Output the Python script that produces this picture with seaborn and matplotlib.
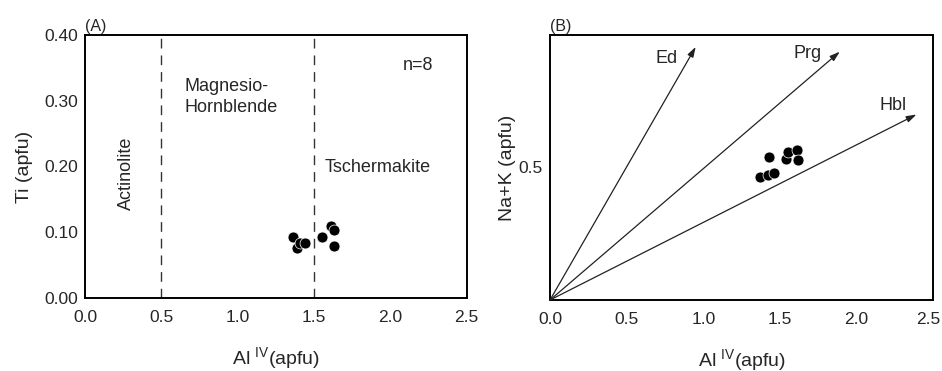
import matplotlib
matplotlib.use("Agg")
import matplotlib.pyplot as plt
import matplotlib.transforms as mtransforms
import seaborn as sns
import pandas as pd
from matplotlib import font_manager

sns.set_theme(style="white")
fams = [f.name for f in font_manager.fontManager.ttflist]
main_font = "Liberation Sans Narrow" if "Liberation Sans Narrow" in fams else "Liberation Sans"
plt.rcParams["font.family"] = [main_font, "DejaVu Sans"]
plt.rcParams["mathtext.fontset"] = "custom"
plt.rcParams["mathtext.rm"] = main_font
plt.rcParams["mathtext.it"] = main_font

# ---- data ----
al_a = [1.36, 1.39, 1.41, 1.44, 1.55, 1.61, 1.63, 1.63]
ti_a = [0.093, 0.076, 0.083, 0.083, 0.093, 0.110, 0.103, 0.079]

al_b = [1.37, 1.42, 1.46, 1.43, 1.54, 1.55, 1.61, 1.62]
nak_b = [0.465, 0.472, 0.478, 0.538, 0.531, 0.560, 0.566, 0.528]

boundaries = [0.5, 1.5]
field_names = ["Actinolite", "Magnesio-\nHornblende", "Tschermakite"]
arrow_names = ["Ed", "Prg", "Hbl"]
arrow_tips_x = [0.95, 1.89, 2.39]
arrow_tips_y = [0.955, 0.937, 0.70]
arrow_lab_x = [0.76, 1.68, 2.24]
arrow_lab_y = [0.912, 0.932, 0.735]

xticks = [0.0, 0.5, 1.0, 1.5, 2.0, 2.5]
ya_ticks = [0.0, 0.1, 0.2, 0.3, 0.4]
yb_ticks = [0.25, 0.5, 0.75]

df_a = pd.DataFrame({"al": al_a, "ti": ti_a})
df_b = pd.DataFrame({"al": al_b, "nak": nak_b})

fig = plt.figure(figsize=(9.42, 3.71), dpi=100)
axA = fig.add_axes([0.0902, 0.1968, 0.4052, 0.709])
axB = fig.add_axes([0.5839, 0.1914, 0.4069, 0.7143])

FS_TICK = 12.5
FS_LAB = 14
FS_TXT = 13

for ax in (axA, axB):
    for s in ax.spines.values():
        s.set_linewidth(1.4)
        s.set_color("black")
    ax.set_xlim(0, 2.5)
    ax.set_xticks(xticks)
    ax.set_xticklabels([f"{v:.1f}" for v in xticks], fontsize=FS_TICK)
    ax.tick_params(axis="both", direction="in", color="black", width=1.2)
    ax.grid(False)

# ---- panel A ----
sns.scatterplot(data=df_a, x="al", y="ti", ax=axA, color="black", s=62,
                edgecolor="white", linewidth=0.5, zorder=3, legend=False)
axA.set_ylim(0, 0.4)
axA.set_yticks(ya_ticks)
axA.set_yticklabels([f"{v:.2f}" for v in ya_ticks], fontsize=FS_TICK)
axA.tick_params(axis="y", length=11, pad=5)
axA.tick_params(axis="x", length=6, pad=9)
for b in boundaries:
    axA.axvline(b, color="#333333", lw=1.0, ls=(0, (7, 5)), zorder=1)
axA.text(0.27, 0.19, field_names[0], rotation=90, ha="center", va="center", fontsize=FS_TXT)
axA.text(0.65, 0.305, field_names[1], ha="left", va="center", fontsize=FS_TXT, linespacing=1.3)
axA.text(1.57, 0.198, field_names[2], ha="left", va="center", fontsize=FS_TXT)
axA.text(2.18, 0.354, "n=8", ha="center", va="center", fontsize=FS_TXT)
axA.set_xlabel(r"Al $^{\mathrm{IV}}$(apfu)", fontsize=FS_LAB, labelpad=14)
axA.set_ylabel("Ti (apfu)", fontsize=FS_LAB, labelpad=8)
axA.text(0.0, 1.005, "(A)", transform=axA.transAxes, ha="left", va="bottom", fontsize=11.5)

# ---- panel B ----
sns.scatterplot(data=df_b, x="al", y="nak", ax=axB, color="black", s=62,
                edgecolor="white", linewidth=0.5, zorder=3, legend=False)
axB.set_ylim(0, 1.0)
axB.set_yticks(yb_ticks)
axB.set_yticklabels(["", "0.5", ""], fontsize=FS_TICK)
axB.tick_params(axis="y", length=11, pad=5)
axB.tick_params(axis="x", length=11, pad=9)
# nudge the last x tick label of panel B so it stays inside the figure
last = axB.get_xticklabels()[-1]
last.set_transform(last.get_transform() + mtransforms.ScaledTranslation(-5 / 100, 0, fig.dpi_scale_trans))
for name, tx, ty, lx, ly in zip(arrow_names, arrow_tips_x, arrow_tips_y, arrow_lab_x, arrow_lab_y):
    axB.annotate("", xy=(tx, ty), xytext=(0, 0),
                 arrowprops=dict(arrowstyle="-|>,head_length=0.5,head_width=0.16",
                                 color="#222222", lw=0.9, shrinkA=0, shrinkB=0))
    axB.text(lx, ly, name, ha="center", va="center", fontsize=FS_TXT)
axB.set_xlabel(r"Al $^{\mathrm{IV}}$(apfu)", fontsize=FS_LAB, labelpad=14)
axB.set_ylabel("Na+K (apfu)", fontsize=FS_LAB, labelpad=2)
axB.text(0.0, 1.005, "(B)", transform=axB.transAxes, ha="left", va="bottom", fontsize=11.5)

fig.savefig("out.png", dpi=100)
